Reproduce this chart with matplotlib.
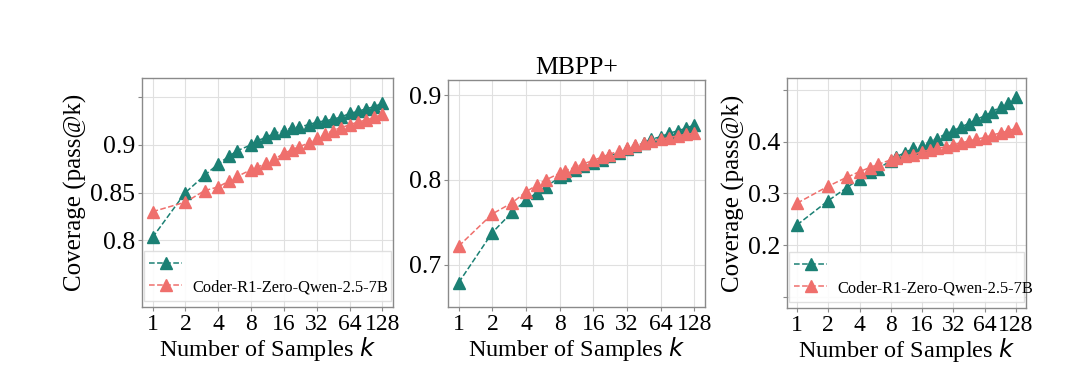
import matplotlib
matplotlib.use('Agg')
import matplotlib.pyplot as plt
from matplotlib.ticker import FixedLocator, NullLocator

plt.rcParams['font.family'] = ['Liberation Serif', 'DejaVu Serif']
plt.rcParams['mathtext.fontset'] = 'dejavusans'

TEAL = '#1b8074'
SALMON = '#ef6f6c'

# sample counts k
k_values = [1, 2, 3, 4, 5, 6, 8, 9, 11, 13, 16, 19, 22, 27, 32, 38, 45, 53, 64, 76, 91, 108, 128]
k_ticks = [1, 2, 4, 8, 16, 32, 64, 128]

titles = ['', 'MBPP+', '']

# left panel
left_base = [0.803, 0.850, 0.868, 0.880, 0.888, 0.894, 0.900, 0.904, 0.908, 0.912, 0.915, 0.918,
             0.919, 0.921, 0.924, 0.925, 0.927, 0.929, 0.933, 0.935, 0.938, 0.940, 0.944]
left_zero = [0.830, 0.840, 0.852, 0.856, 0.862, 0.867, 0.874, 0.876, 0.881, 0.885, 0.891, 0.895,
             0.898, 0.902, 0.907, 0.911, 0.915, 0.918, 0.921, 0.924, 0.926, 0.929, 0.932]

# MBPP+
mid_base = [0.679, 0.738, 0.762, 0.776, 0.785, 0.792, 0.803, 0.806, 0.812, 0.816, 0.820, 0.824,
            0.828, 0.832, 0.837, 0.840, 0.843, 0.848, 0.851, 0.855, 0.858, 0.861, 0.865]
mid_zero = [0.722, 0.760, 0.773, 0.786, 0.794, 0.800, 0.808, 0.811, 0.815, 0.819, 0.823, 0.827,
            0.830, 0.834, 0.838, 0.841, 0.843, 0.846, 0.848, 0.850, 0.852, 0.854, 0.855]

# right panel
right_base = [0.239, 0.286, 0.311, 0.328, 0.341, 0.348, 0.363, 0.371, 0.379, 0.387, 0.392, 0.400,
              0.406, 0.415, 0.421, 0.429, 0.435, 0.443, 0.450, 0.458, 0.468, 0.475, 0.487]
right_zero = [0.281, 0.314, 0.331, 0.342, 0.350, 0.356, 0.365, 0.368, 0.373, 0.375, 0.381, 0.384,
              0.387, 0.390, 0.394, 0.398, 0.401, 0.405, 0.408, 0.413, 0.417, 0.421, 0.426]

y_ticks = [[0.8, 0.85, 0.9, 0.95], [0.7, 0.8, 0.9], [0.1, 0.2, 0.3, 0.4, 0.5]]
y_ticklabels = [['0.8', '0.85', '0.9', ''], ['0.7', '0.8', '0.9'], ['', '0.2', '0.3', '0.4', '']]
y_limits = [(0.73, 0.97), (0.65, 0.918), (0.078, 0.523)]

zero_label = 'Coder-R1-Zero-Qwen-2.5-7B'

fig = plt.figure(figsize=(10.8, 3.7), dpi=100)
boxes = [[0.1315, 0.170, 0.2324, 0.619],
         [0.4148, 0.170, 0.2380, 0.614],
         [0.7287, 0.167, 0.2213, 0.622]]

panels = [(left_base, left_zero), (mid_base, mid_zero), (right_base, right_zero)]

for i, (base, zero) in enumerate(panels):
    ax = fig.add_axes(boxes[i])
    h1, = ax.plot(k_values, base, '--', color=TEAL, lw=1.1, marker='^', markersize=8.5)
    h2, = ax.plot(k_values, zero, '--', color=SALMON, lw=1.1, marker='^', markersize=8.5)
    ax.set_xscale('log', base=2)
    ax.set_xlim(2 ** -0.32, 2 ** 7.32)
    ax.xaxis.set_major_locator(FixedLocator(k_ticks))
    ax.xaxis.set_minor_locator(NullLocator())
    ax.set_xticklabels([str(k) for k in k_ticks])
    ax.set_ylim(*y_limits[i])
    ax.set_yticks(y_ticks[i])
    ax.set_yticklabels(y_ticklabels[i])
    ax.grid(True, color='#e0e0e0', lw=0.8)
    ax.set_axisbelow(True)
    for s in ax.spines.values():
        s.set_color('#8a8a8a')
        s.set_linewidth(1.0)
    ax.tick_params(axis='y', labelsize=18.5, length=3, color='#8a8a8a', pad=2)
    ax.tick_params(axis='x', labelsize=17, length=3, color='#8a8a8a', pad=2)
    ax.set_xlabel('Number of Samples $k$', fontsize=17.5, labelpad=0)
    if i != 1:
        ax.set_ylabel('Coverage (pass@k)', fontsize=18, labelpad=2)
        ax.legend([h1, h2], ['', zero_label], loc='lower left', mode='expand',
                  bbox_to_anchor=(0.0, 0.02, 1.0, 0.2), fontsize=11.8,
                  frameon=True, framealpha=0.9, edgecolor='#dddddd', fancybox=False,
                  handlelength=2.0, handletextpad=0.6, borderpad=0.35,
                  labelspacing=0.4, borderaxespad=0.1)
    ax.set_title(titles[i], fontsize=18.5, pad=4)

fig.savefig('out.png', dpi=100)
